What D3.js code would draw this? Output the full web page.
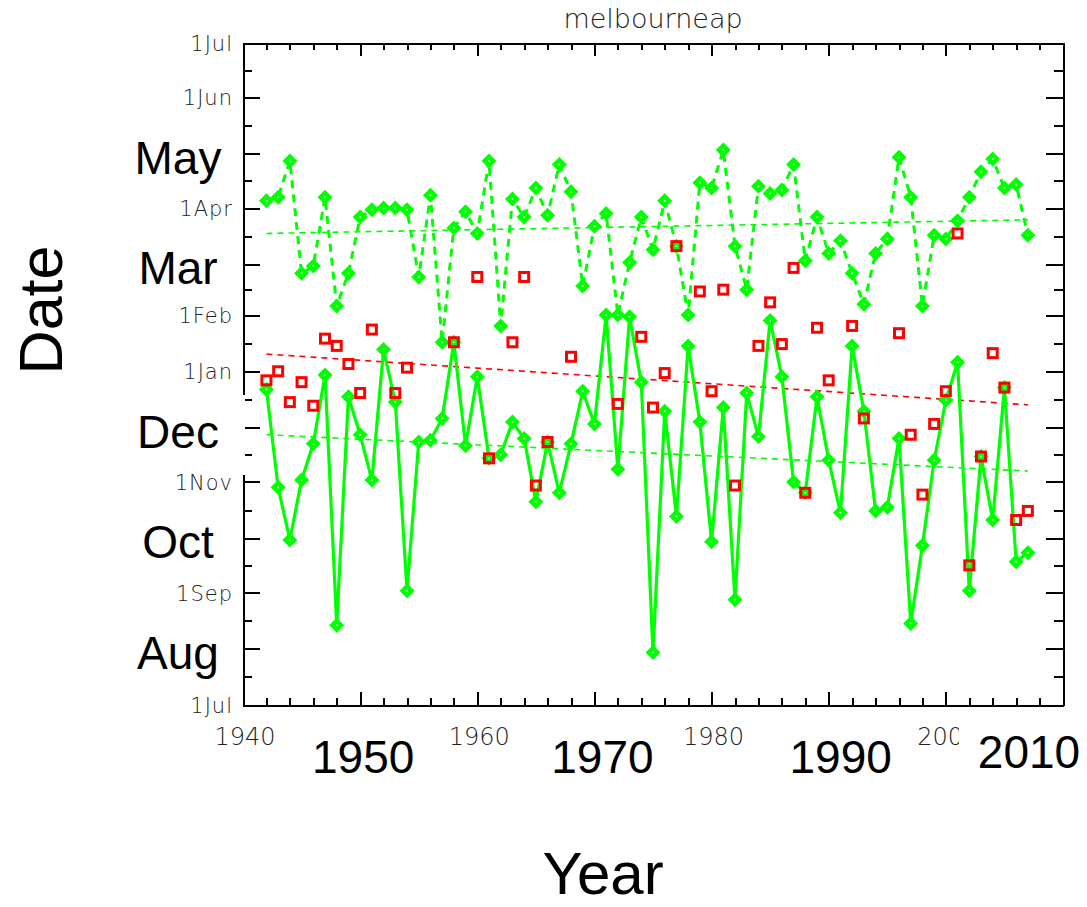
<!DOCTYPE html>
<html>
<head>
<meta charset="utf-8">
<script src="https://cdn.jsdelivr.net/npm/d3@7"></script>
<style>
  body { margin: 0; background: #fff; }
  svg { display: block; }
</style>
</head>
<body>
<div class="chart"></div>
<script>
// SVG area and plot box
var svgWidth = 1087;
var svgHeight = 907;
var plot = { left: 243, right: 1063, top: 43, bottom: 705 };

// Data: dates are days counted from 1 July
var years = d3.range(1942, 2008);

var lowerDays = [
  174, 120, 91, 124, 144, 182, 44, 170, 149, 124,
  196, 167, 63, 145, 146, 158, 200, 143, 181, 136,
  138, 156, 147, 112, 145, 117, 144, 173, 155, 215,
  130, 214, 178, 29, 162, 104, 198, 156, 90, 164,
  58, 172, 148, 212, 181, 123, 117, 170, 135, 106,
  198, 162, 107, 109, 147, 45, 88, 135, 168, 189,
  63, 137, 102, 175, 79, 84
];

var upperDays = [
  278, 280, 300, 238, 242, 280, 220, 238, 269, 273,
  274, 274, 273, 236, 281, 200, 263, 272, 260, 300,
  209, 279, 269, 285, 270, 298, 283, 231, 264, 271,
  215, 244, 269, 251, 278, 253, 215, 288, 285, 306,
  253, 229, 286, 282, 284, 298, 245, 269, 249, 256,
  238, 221, 249, 257, 302, 280, 220, 259, 257, 267,
  280, 294, 301, 285, 287, 259
];

var redDays = [
  179, 184, 167, 178, 165, 202, 198, 188, 172, 207,
  null, 172, 186, null, null, null, 200, null, 236, 136,
  null, 200, 236, 121, 145, null, 192, null, null, null,
  166, null, 203, 164, 183, 253, null, 228, 173, 229,
  121, null, 198, 222, 199, 241, 117, 208, 179, null,
  209, 158, null, null, 205, 149, 116, 155, 173, 260,
  77, 137, 194, 175, 102, 107
];

// trend lines (end values)
var trendYears = [1942, 2007];
var upperTrend = [260, 267.5];
var lowerTrend = [149, 129];
var redTrend = [193.5, 165.5];

// axis ticks and labels
var monthStarts = [0, 31, 62, 92, 123, 153, 184, 215, 243, 274, 304, 335, 365];
var smallDateTicks = [365, 335, 274, 215, 184, 123, 62, 0];
var smallDateLabels = ["1Jul", "1Jun", "1Apr", "1Feb", "1Jan", "1Nov", "1Sep", "1Jul"];
var bigMonthTicks = [304, 243, 153, 92, 31];
var bigMonthLabels = ["May", "Mar", "Dec", "Oct", "Aug"];
var smallYearTicks = [1940, 1960, 1980, 2000];
var bigYearTicks = [1950, 1970, 1990, 2010];

var svg = d3.select(".chart")
  .append("svg")
  .attr("width", svgWidth)
  .attr("height", svgHeight)
  .style("background", "#fff");

var x = d3.scaleLinear().domain([1940, 2010]).range([plot.left, plot.right]);
var y = d3.scaleLinear().domain([0, 365]).range([plot.bottom, plot.top]);

var thinFont = "'DejaVu Sans', sans-serif";
var bigFont = "'Liberation Sans', Arial, sans-serif";

// ---- axes: major and minor ticks on all four sides
var xMajor = d3.range(1940, 2011, 10);
var xMinor = d3.range(1940, 2011, 2).filter(v => v % 10 !== 0);
var yMinor = monthStarts.slice(1).map((d, i) => (d + monthStarts[i]) / 2);

function drawAxis(axisFn, scale, ticks, size, transform, keepDomain) {
  var g = svg.append("g")
    .attr("transform", transform)
    .call(axisFn(scale).tickValues(ticks).tickSize(size).tickSizeOuter(0).tickFormat(""));
  g.selectAll("line, path")
    .attr("stroke", "#000")
    .attr("stroke-width", 2)
    .attr("shape-rendering", "crispEdges");
  if (!keepDomain) g.select(".domain").remove();
  return g;
}

drawAxis(d3.axisBottom, x, xMajor, -13, `translate(0,${plot.bottom})`, true);
drawAxis(d3.axisBottom, x, xMinor, -7, `translate(0,${plot.bottom})`, false);
drawAxis(d3.axisTop, x, xMajor, -13, `translate(0,${plot.top})`, true);
drawAxis(d3.axisTop, x, xMinor, -7, `translate(0,${plot.top})`, false);
drawAxis(d3.axisLeft, y, monthStarts, -17, `translate(${plot.left},0)`, true);
drawAxis(d3.axisLeft, y, yMinor, -9, `translate(${plot.left},0)`, false);
drawAxis(d3.axisRight, y, monthStarts, -17, `translate(${plot.right},0)`, true);
drawAxis(d3.axisRight, y, yMinor, -9, `translate(${plot.right},0)`, false);

// ---- trend lines
var trendLine = d3.line()
  .x(d => x(d[0]))
  .y(d => y(d[1]));

[[upperTrend, "#00ff00"], [lowerTrend, "#00ff00"], [redTrend, "#ff0000"]].forEach(function (t) {
  svg.append("path")
    .datum(trendYears.map((yr, i) => [yr, t[0][i]]))
    .attr("d", trendLine)
    .attr("fill", "none")
    .attr("stroke", t[1])
    .attr("stroke-width", 1.6)
    .attr("stroke-dasharray", "6,5");
});

// ---- green series
var upperData = years.map((yr, i) => ({ year: yr, day: upperDays[i] }));
var lowerData = years.map((yr, i) => ({ year: yr, day: lowerDays[i] }));
var redData = years.map((yr, i) => ({ year: yr, day: redDays[i] }))
  .filter(d => d.day !== null);

var seriesLine = d3.line()
  .x(d => x(d.year))
  .y(d => y(d.day));

svg.append("path")
  .datum(upperData)
  .attr("d", seriesLine)
  .attr("fill", "none")
  .attr("stroke", "#00ff00")
  .attr("stroke-width", 3)
  .attr("stroke-dasharray", "8,6");

svg.append("path")
  .datum(lowerData)
  .attr("d", seriesLine)
  .attr("fill", "none")
  .attr("stroke", "#00ff00")
  .attr("stroke-width", 3.2);

var diamonds = svg.selectAll(".diamond")
  .data(upperData.concat(lowerData))
  .enter()
  .append("g")
  .attr("class", "diamond")
  .attr("transform", d => `translate(${x(d.year)},${y(d.day)})`);

diamonds.append("path")
  .attr("d", "M0,-7.5L7.5,0L0,7.5L-7.5,0Z")
  .attr("fill", "#00ff00");

diamonds.append("rect")
  .attr("x", -0.8).attr("y", -0.8)
  .attr("width", 1.6).attr("height", 1.6)
  .attr("fill", "#fff");

// ---- red squares
svg.selectAll(".sq")
  .data(redData)
  .enter()
  .append("rect")
  .attr("class", "sq")
  .attr("x", d => x(d.year) - 4.5)
  .attr("y", d => y(d.day) - 4.5)
  .attr("width", 9)
  .attr("height", 9)
  .attr("fill", "none")
  .attr("stroke", "#ff0000")
  .attr("stroke-width", 3);

// ---- small (plot) labels
svg.append("text")
  .attr("x", (plot.left + plot.right) / 2)
  .attr("y", 28)
  .attr("text-anchor", "middle")
  .attr("font-family", thinFont)
  .attr("font-weight", 200)
  .attr("font-size", 27)
  .attr("fill", "#222")
  .text("melbourneap");

svg.selectAll(".ydate")
  .data(smallDateTicks)
  .enter()
  .append("text")
  .attr("class", "ydate")
  .attr("x", 233)
  .attr("y", d => y(d) + 8)
  .attr("text-anchor", "end")
  .attr("font-family", thinFont)
  .attr("font-weight", 200)
  .attr("font-size", 21)
  .attr("letter-spacing", 1)
  .attr("fill", "#222")
  .text((d, i) => smallDateLabels[i]);

svg.selectAll(".yyear")
  .data(smallYearTicks)
  .enter()
  .append("text")
  .attr("class", "yyear")
  .attr("x", d => x(d) + 2)
  .attr("y", 745)
  .attr("text-anchor", "middle")
  .attr("font-family", thinFont)
  .attr("font-weight", 200)
  .attr("font-size", 24)
  .attr("fill", "#222")
  .text(d => d);

// white boxes behind the large overlay labels
svg.append("rect")
  .attr("x", 200).attr("y", 395)
  .attr("width", 45).attr("height", 80)
  .attr("fill", "#fff");
svg.append("rect")
  .attr("x", 959).attr("y", 718)
  .attr("width", 128).attr("height", 70)
  .attr("fill", "#fff");

// ---- large overlay labels
svg.selectAll(".bigmonth")
  .data(bigMonthTicks)
  .enter()
  .append("text")
  .attr("class", "bigmonth")
  .attr("x", 178)
  .attr("y", d => y(d) + 20)
  .attr("text-anchor", "middle")
  .attr("font-family", bigFont)
  .attr("font-size", 46)
  .attr("fill", "#000")
  .text((d, i) => bigMonthLabels[i]);

var bigYearNudge = [3, 8, 12, -34];
svg.selectAll(".bigyear")
  .data(bigYearTicks)
  .enter()
  .append("text")
  .attr("class", "bigyear")
  .attr("x", (d, i) => x(d) + bigYearNudge[i])
  .attr("y", (d, i) => i === 3 ? 768 : 773)
  .attr("text-anchor", "middle")
  .attr("font-family", bigFont)
  .attr("font-size", 46)
  .attr("fill", "#000")
  .text(d => d);

svg.append("text")
  .attr("x", 603)
  .attr("y", 894)
  .attr("text-anchor", "middle")
  .attr("font-family", bigFont)
  .attr("font-size", 60)
  .attr("fill", "#000")
  .text("Year");

svg.append("text")
  .attr("transform", "translate(62,310) rotate(-90)")
  .attr("text-anchor", "middle")
  .attr("font-family", bigFont)
  .attr("font-size", 61)
  .attr("fill", "#000")
  .text("Date");
</script>
</body>
</html>
